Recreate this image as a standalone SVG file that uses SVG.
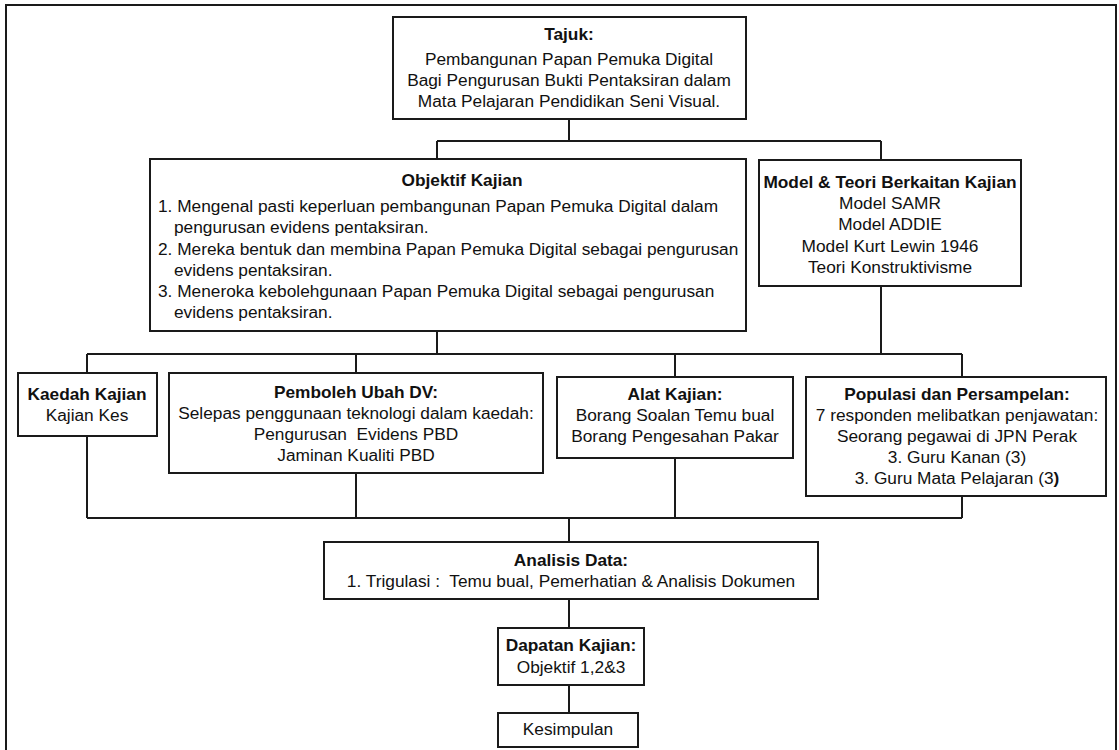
<svg xmlns="http://www.w3.org/2000/svg" width="1119" height="750" viewBox="0 0 1119 750">
<style>
.box{fill:#fff;stroke:#1a1a1a;stroke-width:2}
.ln{fill:none;stroke:#1a1a1a;stroke-width:2}
text{font-family:"Liberation Sans",Arial,sans-serif;font-size:17.3px;fill:#111}
.b{font-weight:bold}
.c{text-anchor:middle}
</style>
<rect width="1119" height="750" fill="#fff"/>
<path class="ln" d="M6,750 V5 H1116 V750"/>
<g id="connectors">
<path class="ln" d="M569,119 V141 M437,141 H881 M437,141 V159 M881,141 V160"/>
<path class="ln" d="M437,331 V354 M881,286 V354 M87,354 H962 M87,354 V373 M356,354 V373 M675,354 V377 M962,354 V377"/>
<path class="ln" d="M87,436 V518 M356,473 V518 M675,458 V518 M962,496 V518 M87,518 H962 M569,518 V542"/>
<path class="ln" d="M569,599 V628 M569,685 V713"/>
</g>
<g id="tajuk">
<rect class="box" x="393" y="17" width="353" height="102"/>
<text class="b c" x="569" y="40">Tajuk:</text>
<text class="c" x="569" y="65">Pembangunan Papan Pemuka Digital</text>
<text class="c" x="569" y="86">Bagi Pengurusan Bukti Pentaksiran dalam</text>
<text class="c" x="569" y="107">Mata Pelajaran Pendidikan Seni Visual.</text>
</g>
<g id="objektif">
<rect class="box" x="150" y="159" width="596" height="172"/>
<text class="b c" x="462" y="186">Objektif Kajian</text>
<text x="158" y="212">1. Mengenal pasti keperluan pembangunan Papan Pemuka Digital dalam</text>
<text x="174" y="233">pengurusan evidens pentaksiran.</text>
<text x="158" y="255">2. Mereka bentuk dan membina Papan Pemuka Digital sebagai pengurusan</text>
<text x="174" y="276">evidens pentaksiran.</text>
<text x="158" y="297">3. Meneroka kebolehgunaan Papan Pemuka Digital sebagai pengurusan</text>
<text x="174" y="318">evidens pentaksiran.</text>
</g>
<g id="model">
<rect class="box" x="759" y="160" width="262" height="126"/>
<text class="b c" x="890" y="188">Model &amp; Teori Berkaitan Kajian</text>
<text class="c" x="890" y="209">Model SAMR</text>
<text class="c" x="890" y="230">Model ADDIE</text>
<text class="c" x="890" y="252">Model Kurt Lewin 1946</text>
<text class="c" x="890" y="273">Teori Konstruktivisme</text>
</g>
<g id="kaedah">
<rect class="box" x="18" y="373" width="139" height="63"/>
<text class="b c" x="87" y="400">Kaedah Kajian</text>
<text class="c" x="87" y="421">Kajian Kes</text>
</g>
<g id="pemboleh">
<rect class="box" x="169" y="373" width="374" height="100"/>
<text class="b c" x="356" y="398">Pemboleh Ubah DV:</text>
<text class="c" x="356" y="419">Selepas penggunaan teknologi dalam kaedah:</text>
<text class="c" x="356" y="440" xml:space="preserve">Pengurusan  Evidens PBD</text>
<text class="c" x="356" y="461">Jaminan Kualiti PBD</text>
</g>
<g id="alat">
<rect class="box" x="557" y="377" width="236" height="81"/>
<text class="b c" x="675" y="400">Alat Kajian:</text>
<text class="c" x="675" y="421">Borang Soalan Temu bual</text>
<text class="c" x="675" y="442">Borang Pengesahan Pakar</text>
</g>
<g id="populasi">
<rect class="box" x="806" y="377" width="300" height="119"/>
<text class="b c" x="957" y="400">Populasi dan Persampelan:</text>
<text class="c" x="957" y="421">7 responden melibatkan penjawatan:</text>
<text class="c" x="957" y="442">Seorang pegawai di JPN Perak</text>
<text class="c" x="957" y="463">3. Guru Kanan (3)</text>
<text class="c" x="957" y="484">3. Guru Mata Pelajaran (3<tspan class="b">)</tspan></text>
</g>
<g id="analisis">
<rect class="box" x="324" y="542" width="494" height="57"/>
<text class="b c" x="571" y="566">Analisis Data:</text>
<text class="c" x="571" y="587" xml:space="preserve">1. Trigulasi :  Temu bual, Pemerhatian &amp; Analisis Dokumen</text>
</g>
<g id="dapatan">
<rect class="box" x="498" y="628" width="146" height="57"/>
<text class="b c" x="571" y="651">Dapatan Kajian:</text>
<text class="c" x="571" y="673">Objektif 1,2&amp;3</text>
</g>
<g id="kesimpulan">
<rect class="box" x="498" y="713" width="140" height="34"/>
<text class="c" x="568" y="735">Kesimpulan</text>
</g>
</svg>
